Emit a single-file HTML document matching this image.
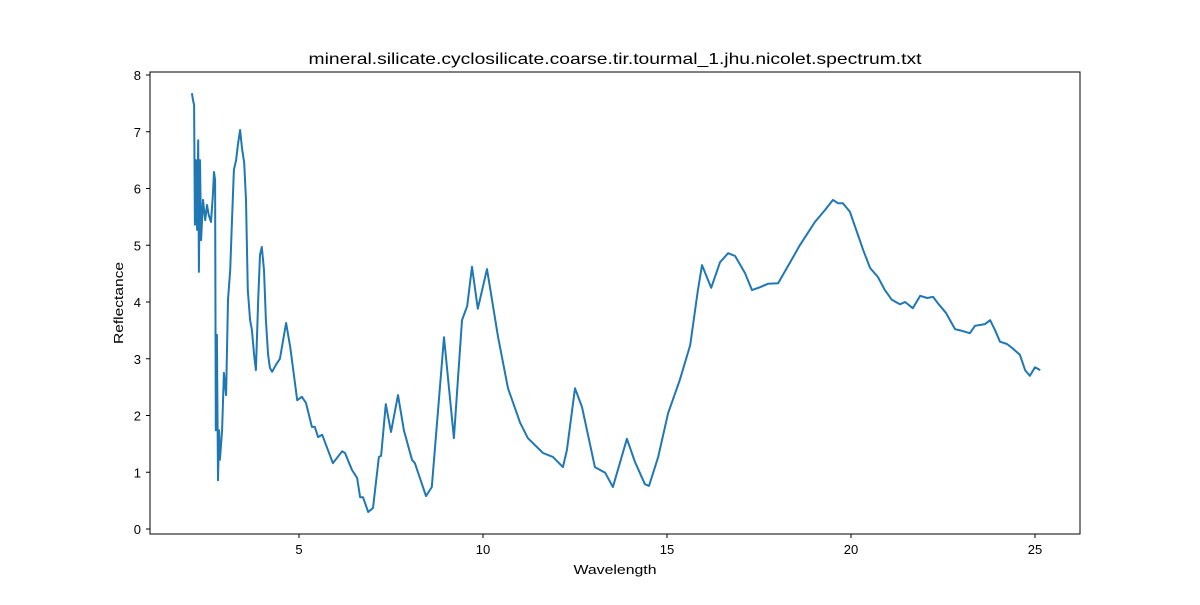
<!DOCTYPE html>
<html><head><meta charset="utf-8"><style>
body{margin:0;background:#fff;font-family:"Liberation Sans","DejaVu Sans",sans-serif}
</style></head><body>
<svg id="chart" width="1200" height="600" font-family="Liberation Sans, DejaVu Sans, sans-serif">
<rect width="1200" height="600" fill="#fff"/>
<text x="615" y="64" text-anchor="middle" font-size="16" textLength="613" lengthAdjust="spacingAndGlyphs">mineral.silicate.cyclosilicate.coarse.tir.tourmal_1.jhu.nicolet.spectrum.txt</text>
<g id="xt"></g><g id="yt"></g>
<path id="line" fill="none" stroke="#1f77b4" stroke-width="2" stroke-linejoin="round"/>
<rect x="150" y="72" width="930" height="462" fill="none" stroke="#000" stroke-width="1"/>
<text x="615" y="574" text-anchor="middle" font-size="13" textLength="83" lengthAdjust="spacingAndGlyphs">Wavelength</text>
<text x="123" y="303" text-anchor="middle" font-size="13" textLength="82" lengthAdjust="spacingAndGlyphs" transform="rotate(-90 123 303)">Reflectance</text>
</svg>
<script>
const wavelength=[2.09,2.12,2.15,2.17,2.20,2.23,2.26,2.28,2.31,2.34,2.39,2.45,2.50,2.55,2.61,2.66,2.69,2.72,2.74,2.77,2.80,2.83,2.85,2.91,2.96,3.02,3.07,3.13,3.18,3.23,3.29,3.34,3.40,3.45,3.51,3.56,3.61,3.67,3.72,3.78,3.83,3.89,3.94,3.99,4.05,4.10,4.16,4.21,4.27,4.38,4.48,4.65,4.76,4.95,5.08,5.19,5.35,5.43,5.52,5.63,5.92,6.17,6.25,6.44,6.58,6.66,6.74,6.88,7.01,7.17,7.23,7.36,7.50,7.69,7.85,8.07,8.15,8.45,8.61,8.94,9.21,9.43,9.57,9.70,9.86,10.11,10.41,10.68,11.01,11.22,11.63,11.90,12.17,12.28,12.50,12.69,13.04,13.32,13.53,13.91,14.13,14.40,14.51,14.76,15.03,15.35,15.63,15.84,15.95,16.20,16.44,16.66,16.85,17.12,17.31,17.53,17.74,18.02,18.34,18.61,18.83,19.02,19.29,19.51,19.65,19.78,19.97,20.19,20.33,20.52,20.73,20.92,21.11,21.33,21.47,21.68,21.88,22.07,22.23,22.36,22.58,22.83,23.02,23.23,23.37,23.64,23.78,23.91,24.05,24.24,24.38,24.59,24.73,24.86,25.00,25.14];
const reflectance=[7.68,7.56,7.47,5.36,6.50,5.27,6.85,4.53,6.50,5.09,5.80,5.44,5.71,5.53,5.41,5.89,6.29,6.15,1.74,3.42,0.86,1.74,1.22,1.74,2.75,2.36,4.04,4.56,5.44,6.33,6.50,6.77,7.03,6.71,6.45,5.80,4.21,3.68,3.51,3.07,2.80,4.04,4.83,4.97,4.56,3.68,3.07,2.84,2.77,2.90,3.00,3.63,3.21,2.27,2.33,2.22,1.80,1.80,1.62,1.66,1.16,1.37,1.34,1.04,0.90,0.56,0.56,0.30,0.37,1.27,1.29,2.20,1.71,2.36,1.74,1.22,1.16,0.58,0.74,3.38,1.60,3.68,3.93,4.62,3.88,4.58,3.38,2.48,1.87,1.60,1.34,1.27,1.09,1.39,2.48,2.15,1.09,0.99,0.74,1.59,1.18,0.79,0.76,1.27,2.04,2.63,3.24,4.21,4.65,4.25,4.70,4.86,4.81,4.51,4.21,4.26,4.32,4.33,4.69,5.00,5.22,5.41,5.62,5.80,5.74,5.74,5.59,5.18,4.92,4.60,4.44,4.21,4.04,3.96,4.00,3.89,4.11,4.07,4.09,3.98,3.81,3.52,3.49,3.45,3.58,3.61,3.68,3.51,3.30,3.26,3.19,3.07,2.80,2.70,2.85,2.80];
const xTicks=[5,10,15,20,25];
const yTicks=[0,1,2,3,4,5,6,7,8];
const NS="http://www.w3.org/2000/svg";
const sx=v=>115+v*36.8;
const sy=v=>529-v*56.75;
let d="";
for(let i=0;i<wavelength.length;i++){d+=(i?"L":"M")+sx(wavelength[i]).toFixed(1)+","+sy(reflectance[i]).toFixed(1);}
document.getElementById("line").setAttribute("d",d);
const xt=document.getElementById("xt"),yt=document.getElementById("yt");
xTicks.forEach(t=>{
 const l=document.createElementNS(NS,"line");
 l.setAttribute("x1",sx(t));l.setAttribute("x2",sx(t));l.setAttribute("y1",534);l.setAttribute("y2",538);l.setAttribute("stroke","#000");
 
 
 xt.appendChild(l);
 const tx=document.createElementNS(NS,"text");
 tx.setAttribute("x",sx(t));tx.setAttribute("y",554);tx.setAttribute("text-anchor","middle");tx.setAttribute("font-size","13");tx.textContent=t;
 
 
 xt.appendChild(tx);
});
yTicks.forEach(t=>{
 const l=document.createElementNS(NS,"line");
 l.setAttribute("x1",146);l.setAttribute("x2",150);l.setAttribute("y1",sy(t));l.setAttribute("y2",sy(t));l.setAttribute("stroke","#000");
 
 
 yt.appendChild(l);
 const tx=document.createElementNS(NS,"text");
 tx.setAttribute("x",141);tx.setAttribute("y",sy(t)+5);tx.setAttribute("text-anchor","end");tx.setAttribute("font-size","13");tx.textContent=t;
 
 
 yt.appendChild(tx);
});
</script>
</body></html>
